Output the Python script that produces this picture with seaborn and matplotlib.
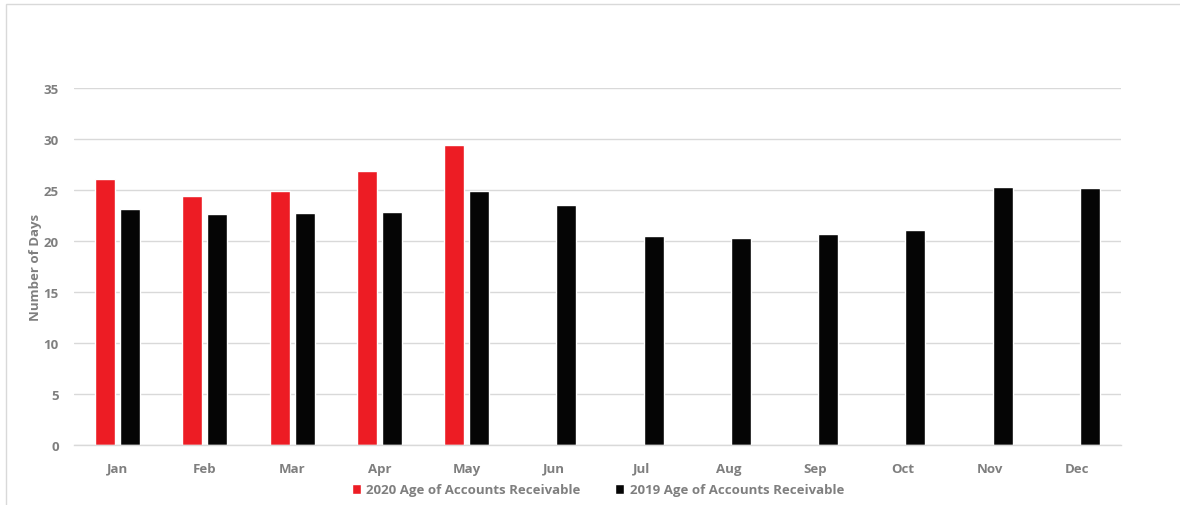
import matplotlib
matplotlib.use("Agg")
import matplotlib.pyplot as plt
from matplotlib.patches import Rectangle
import seaborn as sns
import pandas as pd
import numpy as np

months = ["Jan", "Feb", "Mar", "Apr", "May", "Jun", "Jul", "Aug", "Sep", "Oct", "Nov", "Dec"]
ar_2020 = [26.1, 24.4, 24.9, 26.9, 29.4, np.nan, np.nan, np.nan, np.nan, np.nan, np.nan, np.nan]
ar_2019 = [23.1, 22.6, 22.7, 22.8, 24.9, 23.5, 20.5, 20.3, 20.7, 21.1, 25.3, 25.2]
series_names = ["2020 Age of Accounts Receivable", "2019 Age of Accounts Receivable"]
series_colors = ["#ed1c24", "#050505"]
y_ticks = [0, 5, 10, 15, 20, 25, 30, 35]

df = pd.DataFrame({
    "Month": months * 2,
    "Days": ar_2020 + ar_2019,
    "Series": [series_names[0]] * len(months) + [series_names[1]] * len(months),
})

sns.set_theme(style="white")
plt.rcParams["font.family"] = ["Open Sans", "DejaVu Sans"]
text_gray = "#7f7f7f"

fig = plt.figure(figsize=(11.8, 5.06), dpi=100)
ax = fig.add_axes([74 / 1180, 1 - 446 / 506, (1121 - 74) / 1180, (446 - 89) / 506])

sns.barplot(data=df, x="Month", y="Days", hue="Series", order=months,
            hue_order=series_names, palette=series_colors, width=0.57, gap=0.2,
            saturation=1, ax=ax, legend=True)

ax.set_ylim(0, 35)
ax.set_xlim(-0.5, len(months) - 0.5)
ax.set_yticks(y_ticks)
ax.yaxis.grid(True, color="#d9d9d9", linewidth=1)
ax.set_axisbelow(True)
for side in ["top", "right", "left"]:
    ax.spines[side].set_visible(False)
ax.spines["bottom"].set_color("#d9d9d9")
ax.spines["bottom"].set_linewidth(1)
ax.tick_params(axis="both", length=0, colors=text_gray, labelsize=9.5)
ax.tick_params(axis="x", pad=12)
ax.tick_params(axis="y", pad=11)
for lbl in ax.get_xticklabels() + ax.get_yticklabels():
    lbl.set_fontweight("bold")
ax.set_xlabel("")
ax.set_ylabel("Number of Days", color=text_gray, fontsize=9.5, fontweight="bold")
ax.yaxis.set_label_coords((42 - 74) / 1047, 0.5)

handles, labels = ax.get_legend_handles_labels()
ax.legend_.remove()
leg = fig.legend(handles, labels, loc="center", bbox_to_anchor=(598 / 1180, 1 - 491 / 506),
                 ncol=2, frameon=False, handlelength=0.7, handleheight=0.7,
                 handletextpad=0.4, columnspacing=2.6, prop={"size": 9.5, "weight": "bold"})
for t in leg.get_texts():
    t.set_color(text_gray)

# thin frame around the chart area
fig.patches.append(Rectangle((6 / 1180, -0.01), 1.02, 1 - 5 / 506 + 0.01,
                             transform=fig.transFigure, fill=False,
                             edgecolor="#d9d9d9", linewidth=1))

fig.savefig("out.png", dpi=100)
